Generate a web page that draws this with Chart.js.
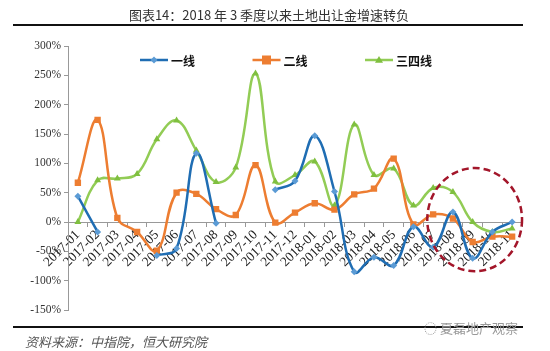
<!DOCTYPE html>
<html>
<head>
<meta charset="utf-8">
<script src="https://cdn.jsdelivr.net/npm/chart.js@4"></script>
<style>
  body { margin: 0; background: #fff; }
  #wrap { position: relative; width: 550px; height: 351px; overflow: hidden; background: #fff; }
  #chart { position: absolute; left: 0; top: 0; }
  #title { position: absolute; left: 0; top: 5px; width: 538px; text-align: center;
           font: 13px "Noto Sans CJK SC", sans-serif; color: #333; }
  .rule { position: absolute; left: 13px; width: 510px; height: 2px; background: #111; }
  #src { position: absolute; left: 25px; top: 332px; font: italic 13px "Noto Sans CJK SC", sans-serif; color: #555; }
  #wm { position: absolute; left: 424px; top: 318px; font: 13px "Noto Sans CJK SC", sans-serif; color: #999; }
</style>
</head>
<body>
<div id="wrap">
  <canvas id="chart" width="550" height="351"></canvas>
  <div id="title">图表14：2018 年 3 季度以来土地出让金增速转负</div>
  <div class="rule" style="top:24px"></div>
  <div class="rule" style="top:326px"></div>
  <div id="src">资料来源：中指院，恒大研究院</div>
  <div id="wm">◌ 夏磊地产观察</div>
</div>
<script>
const months = ['2017-01', '2017-02', '2017-03', '2017-04', '2017-05', '2017-06', '2017-07', '2017-08',
  '2017-09', '2017-10', '2017-11', '2017-12', '2018-01', '2018-02', '2018-03', '2018-04', '2018-05',
  '2018-06', '2018-07', '2018-08', '2018-09', '2018-10', '2018-11'];

// 一线 (gaps where the line breaks)
const tier1 = [44, -17, null, null, -57, -45, 117, -2, null, null, 55, 70, 147, 52, -85, -60, -74, -8, -43, 17, -62, -17, 0];
// 二线
const tier2 = [67, 174, 7, -17, -49, 50, 48, 22, 12, 97, -1, 16, 32, 21, 47, 57, 108, -4, 13, 6, -34, -25, -25];
// 三四线
const tier34 = [0, 71, 74, 82, 141, 173, 122, 68, 93, 253, 69, 80, 103, 28, 166, 80, 91, 28, 58, 51, 0, -17, -11];

const yMin = -150, yMax = 300, yStep = 50;

const serif = '"Liberation Serif", "Times New Roman", serif';

function drawMarker(ctx, style, x, y, r, color) {
  ctx.fillStyle = color;
  ctx.beginPath();
  if (style === 'rectRot') {
    ctx.moveTo(x, y - r); ctx.lineTo(x + r, y); ctx.lineTo(x, y + r); ctx.lineTo(x - r, y);
  } else if (style === 'rect') {
    ctx.rect(x - r, y - r, r * 2, r * 2);
  } else {
    ctx.moveTo(x, y - r); ctx.lineTo(x + r, y + r * 0.7); ctx.lineTo(x - r, y + r * 0.7);
  }
  ctx.closePath();
  ctx.fill();
}

// excel-like legend (line + marker) and the red dashed circle
const extras = {
  id: 'extras',
  afterDraw(chart) {
    const { ctx, chartArea, scales: { x, y } } = chart;
    ctx.save();

    // circle around the last months
    const cx = x.getPixelForValue(20) + 2;
    const cy = y.getPixelForValue(4);
    const rx = (x.getPixelForValue(22) - x.getPixelForValue(20)) * 1.2;
    const ry = y.getPixelForValue(-84) - cy;
    ctx.strokeStyle = '#a3162a';
    ctx.lineWidth = 2.5;
    ctx.setLineDash([7, 4]);
    ctx.beginPath();
    ctx.ellipse(cx, cy, rx, ry, 0, 0, Math.PI * 2);
    ctx.stroke();
    ctx.setLineDash([]);

    // legend
    const ly = chartArea.top + 14;
    let lx = chartArea.left + 72;
    ctx.font = 'bold 12px "Noto Sans CJK SC", sans-serif';
    ctx.textBaseline = 'middle';
    chart.data.datasets.forEach(ds => {
      ctx.strokeStyle = ds.borderColor;
      ctx.lineWidth = 2.5;
      ctx.beginPath();
      ctx.moveTo(lx, ly); ctx.lineTo(lx + 28, ly);
      ctx.stroke();
      drawMarker(ctx, ds.pointStyle, lx + 14, ly, ds.pointRadius, ds.pointBackgroundColor);
      ctx.fillStyle = '#111';
      ctx.fillText(ds.label, lx + 31, ly + 1);
      lx += 112.5;
    });
    ctx.restore();
  }
};

const ctx = document.getElementById('chart').getContext('2d');
new Chart(ctx, {
  type: 'line',
  data: {
    labels: months,
    datasets: [{
      label: '一线',
      data: tier1,
      borderColor: '#1f6db3',
      borderWidth: 2.5,
      pointStyle: 'rectRot',
      pointRadius: 3.5,
      pointBackgroundColor: '#5b9bd5',
      pointBorderWidth: 0,
      tension: 0.4,
      spanGaps: false
    }, {
      label: '二线',
      data: tier2,
      borderColor: '#ed7d31',
      borderWidth: 2.5,
      pointStyle: 'rect',
      pointRadius: 4.5,
      pointBackgroundColor: '#ed7d31',
      pointBorderWidth: 0,
      tension: 0.4
    }, {
      label: '三四线',
      data: tier34,
      borderColor: '#92cc55',
      borderWidth: 2.5,
      pointStyle: 'triangle',
      pointRadius: 4,
      pointBackgroundColor: '#7fbf3f',
      pointBorderWidth: 0,
      tension: 0.4
    }]
  },
  options: {
    responsive: false,
    animation: false,
    layout: { padding: { left: 8, top: 46, right: 28, bottom: 41 } },
    plugins: {
      legend: { display: false },
      tooltip: { enabled: false }
    },
    scales: {
      x: {
        position: { y: 0 },
        offset: true,
        grid: { offset: true, drawOnChartArea: false, drawTicks: true, tickLength: 4, color: '#999' },
        border: { color: '#999', width: 1 },
        ticks: {
          autoSkip: false, minRotation: 45, maxRotation: 45, padding: 1,
          color: '#222', font: { family: serif, size: 13.5 }
        }
      },
      y: {
        min: yMin, max: yMax,
        afterFit(scale) { scale.width = 60; },
        grid: { display: true, drawOnChartArea: false, drawTicks: true, tickLength: 4, color: '#999' },
        border: { color: '#999', width: 1 },
        ticks: {
          stepSize: yStep, padding: 3,
          color: '#333', font: { family: serif, size: 11.5 }
        ,
          callback: v => v + '%'
        }
      }
    }
  },
  plugins: [extras]
});
</script>
</body>
</html>
